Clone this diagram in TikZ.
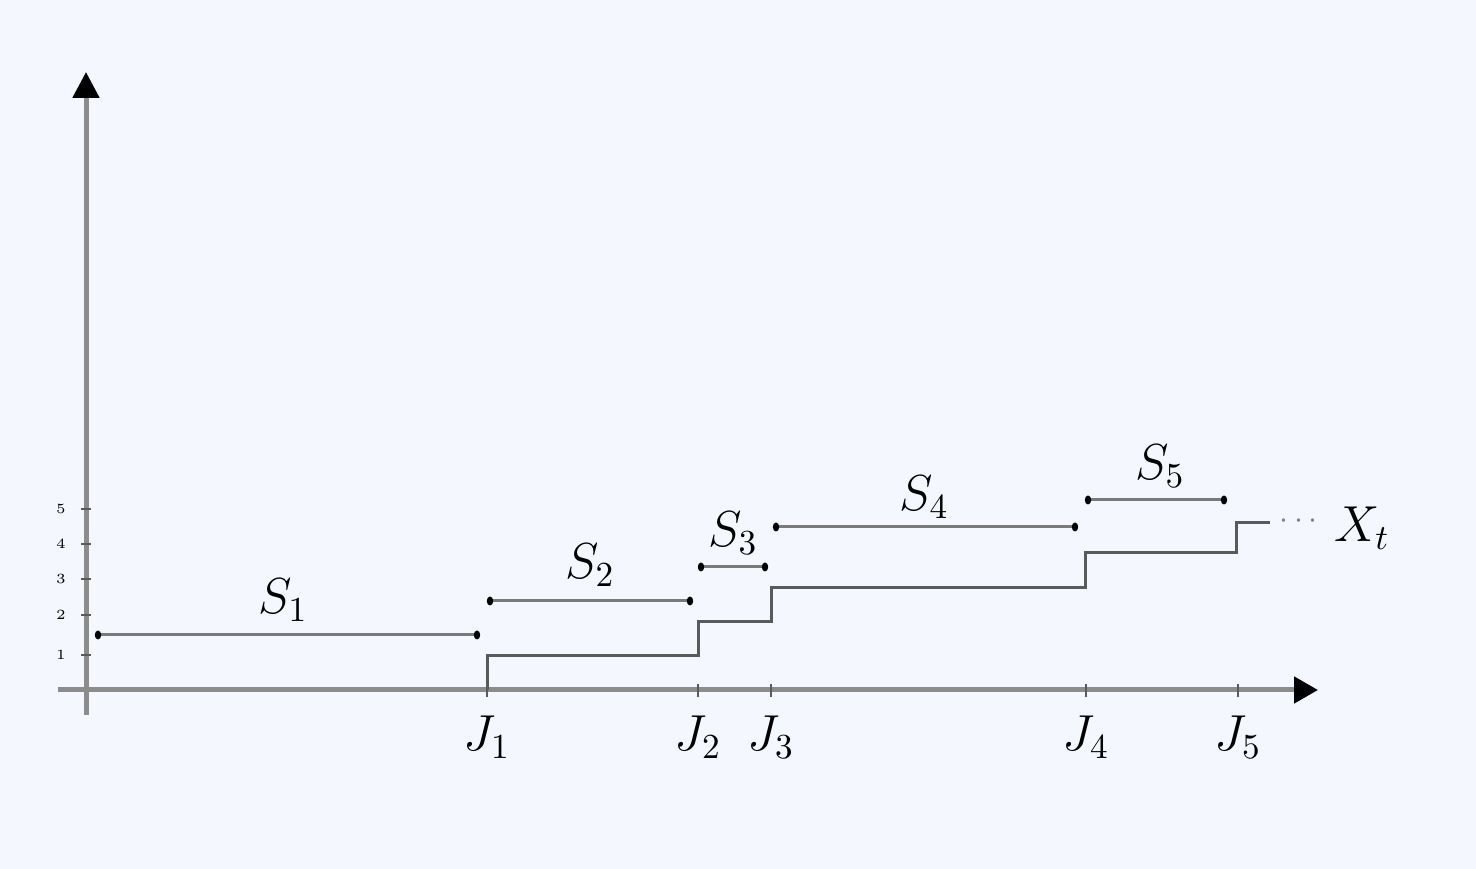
\documentclass[tikz,border=0pt]{standalone}
\usetikzlibrary{arrows.meta}
\definecolor{bgc}{HTML}{F4F7FD}
\definecolor{axisc}{HTML}{8C8C8C}
\definecolor{stepc}{HTML}{5A5A5A}
\definecolor{spanc}{HTML}{7A7A7A}
\begin{document}
\begin{tikzpicture}[x=0.1mm,y=-0.1mm,
  axis/.style={draw=axisc,line width=0.5mm},
  stepline/.style={draw=stepc,line width=0.3mm},
  span/.style={draw=spanc,line width=0.3mm},
  enddot/.style={fill=black},
  lab/.style={font=\fontsize{14.5}{17}\selectfont,inner sep=0pt},
  tlab/.style={font=\fontsize{4}{5}\selectfont,inner sep=0pt},
  tick/.style={draw=stepc,line width=0.25mm}]
\fill[bgc] (0,0) rectangle (1476,869);
\useasboundingbox (0,0) rectangle (1476,869);
% axes
\coordinate (ybot) at (86,715);
\coordinate (ytop) at (86,72);
\coordinate (xl) at (58,690);
\coordinate (xr) at (1318,690);
\draw[axis,-{Triangle[length=2.6mm,width=2.6mm,black]}] (ybot) -- (ytop);
\draw[axis,-{Triangle[length=2.4mm,width=2.6mm,black]}] (xl) -- (xr);
% y ticks
\foreach \v/\yy in {1/655,2/615,3/579,4/544,5/509}{
  \draw[tick] (81,\yy) -- (91,\yy);
  \node[tlab] (yl\v) at (61,\yy) {\v};
}
% x ticks and labels
\foreach \i/\xx in {1/487,2/698,3/771,4/1086,5/1238}{
  \draw[tick] (\xx,684) -- (\xx,697);
  \node[lab] (J\i) at (\xx,737) {$J_{\i}$};
}
% step function
\coordinate (p0) at (487,690);
\coordinate (pend) at (1270,523);
\draw[stepline] (p0) -- (487,656) -- (698,656) -- (698,622) -- (771,622) -- (771,588)
  -- (1085,588) -- (1085,553) -- (1236,553) -- (1236,523) -- (pend);
\node[font=\fontsize{9}{10}\selectfont,text=gray,inner sep=0pt,anchor=west] (dots) at (1279,521) {$\cdots$};
\node[lab] (Xt) at (1362,528) {$X_t$};
% spans
\foreach \i/\a/\b/\yy/\lx/\ly in {1/98/477/635/283/600, 2/490/690/601/590/565, 3/701/765/567/733/533, 4/776/1075/527/924/497, 5/1088/1224/500/1160/466}{
  \coordinate (sa\i) at (\a,\yy);
  \coordinate (sb\i) at (\b,\yy);
  \draw[span] (sa\i) -- (sb\i);
  \fill[enddot] (sa\i) ellipse [x radius=3.2,y radius=4.5];
  \fill[enddot] (sb\i) ellipse [x radius=3.2,y radius=4.5];
  \node[lab] (S\i) at (\lx,\ly) {$S_{\i}$};
}
\end{tikzpicture}
\end{document}
